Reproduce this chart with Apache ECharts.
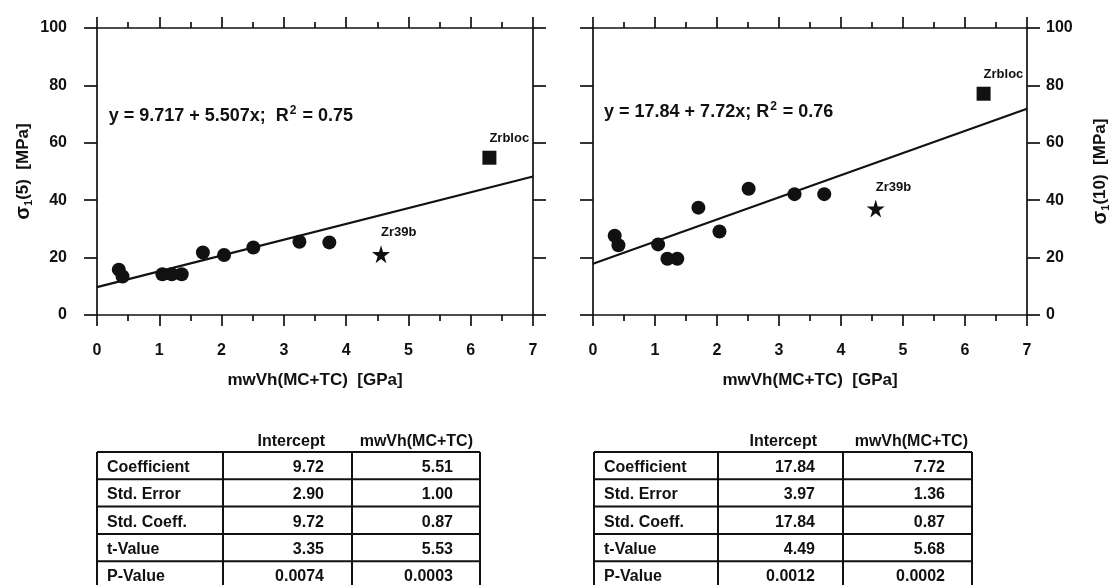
<!DOCTYPE html>
<html><head><meta charset="utf-8">
<script src="https://cdn.jsdelivr.net/npm/echarts@6/dist/echarts.min.js"></script>
<style>html,body{margin:0;padding:0;background:#fff}#c{width:1116px;height:585px}</style>
</head><body><div id="c"></div>
<script>
// ---------- data ----------
const circleX   = [0.35, 0.41, 1.05, 1.20, 1.36, 1.70, 2.04, 2.51, 3.25, 3.73];
const circleY5  = [15.8, 13.4, 14.2, 14.2, 14.2, 21.8, 20.9, 23.5, 25.5, 25.3];
const circleY10 = [27.6, 24.3, 24.6, 19.6, 19.6, 37.4, 29.1, 44.0, 42.1, 42.1];
const starX = [4.56];  const starY5 = [21.2];  const starY10 = [37.1];
const squareX = [6.30]; const squareY5 = [54.8]; const squareY10 = [77.1];
const fitX = [0, 7];
const fitY5 = [9.72, 48.27];
const fitY10 = [17.84, 71.88];
const starName = 'Zr39b';
const squareName = 'Zrbloc';
const eqLeft  = '{t|y = 9.717 + 5.507x;  R}{sup|2}{t| = 0.75}';
const eqRight = '{t|y = 17.84 + 7.72x; R}{sup|2}{t| = 0.76}';
const eqPosLeft = [0.18, 69.5];
const eqPosRight = [0.17, 70.7];
const xTitle = 'mwVh(MC+TC)  [GPa]';
const yTitleLeft  = '{s|σ}{sub|1}{t|(5)  [MPa]}';
const yTitleRight = '{s|σ}{sub|1}{t|(10)  [MPa]}';
const tableHeaders = ['Intercept', 'mwVh(MC+TC)'];
const rowLabels = ['Coefficient', 'Std. Error', 'Std. Coeff.', 't-Value', 'P-Value'];
const leftIntercept  = ['9.72', '2.90', '9.72', '3.35', '0.0074'];
const leftSlope      = ['5.51', '1.00', '0.87', '5.53', '0.0003'];
const rightIntercept = ['17.84', '3.97', '17.84', '4.49', '0.0012'];
const rightSlope     = ['7.72', '1.36', '0.87', '5.68', '0.0002'];

// ---------- style ----------
const ink = '#111';
const FF = '"Liberation Sans", Arial, Helvetica, sans-serif';
const starPath = 'path://M50,0 L61,35 L98,35 L68,57 L79,91 L50,70 L21,91 L32,57 L2,35 L39,35 Z';
const lineW = 1.7;

function xAxes(gi) {
  const common = {
    gridIndex: gi, type: 'value', min: 0, max: 7, interval: 1,
    axisLine: { show: true, onZero: false, lineStyle: { color: ink, width: lineW } },
    axisTick: { show: true, length: 11, lineStyle: { color: ink, width: lineW } },
    minorTick: { show: true, splitNumber: 2, length: 6, lineStyle: { color: ink, width: lineW } },
    splitLine: { show: false }, minorSplitLine: { show: false }
  };
  return [
    Object.assign({}, common, {
      position: 'bottom',
      axisLabel: { color: ink, fontSize: 16, fontWeight: 'bold', fontFamily: FF, margin: 28 },
      name: xTitle, nameLocation: 'middle', nameGap: 57,
      nameTextStyle: { color: ink, fontSize: 17, fontWeight: 'bold', fontFamily: FF }
    }),
    Object.assign({}, common, { position: 'top', axisLabel: { show: false } })
  ];
}
function yAxis(gi, pos, labels, name, margin) {
  const a = {
    gridIndex: gi, type: 'value', min: 0, max: 100, interval: 20, position: pos,
    axisLine: { show: true, onZero: false, lineStyle: { color: ink, width: lineW } },
    axisTick: { show: true, length: 13, lineStyle: { color: ink, width: lineW } },
    splitLine: { show: false },
    axisLabel: { show: labels, color: ink, fontSize: 16, fontWeight: 'bold', fontFamily: FF, margin: margin }
  };
  if (name) {
    a.name = name; a.nameLocation = 'middle'; a.nameGap = 63; a.nameRotate = 90;
    a.nameTextStyle = {
      color: ink, fontFamily: FF, fontWeight: 'bold',
      rich: {
        s: { fontSize: 20, fontWeight: 'bold', color: ink, fontFamily: FF },
        sub: { fontSize: 11, fontWeight: 'bold', color: ink, fontFamily: FF, padding: [10, 0, 0, 0] },
        t: { fontSize: 17, fontWeight: 'bold', color: ink, fontFamily: FF }
      }
    };
  }
  return a;
}
const zip = (xs, ys) => xs.map((x, i) => [x, ys[i]]);
const ptLabel = { show: true, position: 'top', align: 'left', distance: 6,
  color: ink, fontSize: 13, fontWeight: 'bold', fontFamily: FF, formatter: p => p.name };
const solid = { color: ink, opacity: 1 };

function chartSeries(xi, yi, cy, sy, qy, fy, eq, eqPos) {
  return [
    { type: 'line', xAxisIndex: xi, yAxisIndex: yi, data: zip(fitX, fy), symbol: 'none',
      lineStyle: { color: ink, width: 2.2 }, z: 1, silent: true },
    { type: 'scatter', xAxisIndex: xi, yAxisIndex: yi, data: zip(circleX, cy), symbol: 'circle',
      symbolSize: 14, itemStyle: solid, z: 3 },
    { type: 'scatter', xAxisIndex: xi, yAxisIndex: yi,
      data: [{ name: starName, value: [starX[0], sy[0]] }], symbol: starPath, symbolSize: 18,
      itemStyle: solid, label: ptLabel, z: 3 },
    { type: 'scatter', xAxisIndex: xi, yAxisIndex: yi,
      data: [{ name: squareName, value: [squareX[0], qy[0]] }], symbol: 'rect', symbolSize: 14,
      itemStyle: solid, label: ptLabel, z: 3 },
    { type: 'scatter', xAxisIndex: xi, yAxisIndex: yi, data: [eqPos], symbolSize: 1,
      itemStyle: { color: 'rgba(0,0,0,0)', opacity: 1 }, silent: true,
      label: { show: true, position: 'right', distance: 0, formatter: eq, opacity: 1,
        rich: {
          t: { fontSize: 18, fontWeight: 'bold', color: ink, fontFamily: FF },
          sup: { fontSize: 12, fontWeight: 'bold', color: ink, fontFamily: FF, padding: [0, 1, 10, 1] }
        } } }
  ];
}

// ---------- tables (graphic) ----------
function table(cols, top, rowH, c1, c2, hdrOff) {
  const els = [];
  const n = rowLabels.length;
  const font = 'bold 16px ' + FF;
  for (let i = 0; i <= n; i++) {
    els.push({ type: 'line', shape: { x1: cols[0], y1: top + i * rowH, x2: cols[3], y2: top + i * rowH },
      style: { stroke: ink, lineWidth: 2 } });
  }
  cols.forEach(cx => els.push({ type: 'line', shape: { x1: cx, y1: top, x2: cx, y2: top + n * rowH },
    style: { stroke: ink, lineWidth: 2 } }));
  els.push({ type: 'text', x: cols[2] - hdrOff[0], y: top - 10,
    style: { text: tableHeaders[0], font: font, fill: ink, align: 'right', verticalAlign: 'middle' } });
  els.push({ type: 'text', x: cols[3] - hdrOff[1], y: top - 10,
    style: { text: tableHeaders[1], font: font, fill: ink, align: 'right', verticalAlign: 'middle' } });
  rowLabels.forEach((lab, i) => {
    const yc = top + (i + 0.5) * rowH + 2;
    els.push({ type: 'text', x: cols[0] + 10, y: yc,
      style: { text: lab, font: font, fill: ink, align: 'left', verticalAlign: 'middle' } });
    els.push({ type: 'text', x: cols[2] - 28, y: yc,
      style: { text: c1[i], font: font, fill: ink, align: 'right', verticalAlign: 'middle' } });
    els.push({ type: 'text', x: cols[3] - 27, y: yc,
      style: { text: c2[i], font: font, fill: ink, align: 'right', verticalAlign: 'middle' } });
  });
  return els;
}

const chart = echarts.init(document.getElementById('c'), null, { renderer: 'canvas' });
chart.setOption({
  backgroundColor: '#fff',
  animation: false,
  grid: [
    { left: 97, top: 28, width: 436, height: 287 },
    { left: 593, top: 28, width: 434, height: 287 }
  ],
  xAxis: [].concat(xAxes(0), xAxes(1)),
  yAxis: [
    yAxis(0, 'left', true, yTitleLeft, 30),
    yAxis(0, 'right', false, null, 10),
    yAxis(1, 'left', false, null, 10),
    yAxis(1, 'right', true, yTitleRight, 19)
  ],
  series: [].concat(
    chartSeries(0, 0, circleY5, starY5, squareY5, fitY5, eqLeft, eqPosLeft),
    chartSeries(2, 2, circleY10, starY10, squareY10, fitY10, eqRight, eqPosRight)
  ),
  graphic: [].concat(
    table([97, 223, 352, 480], 452, 27.3, leftIntercept, leftSlope, [27, 7]),
    table([594, 718, 843, 972], 452, 27.3, rightIntercept, rightSlope, [26, 4])
  )
});
</script></body></html>
